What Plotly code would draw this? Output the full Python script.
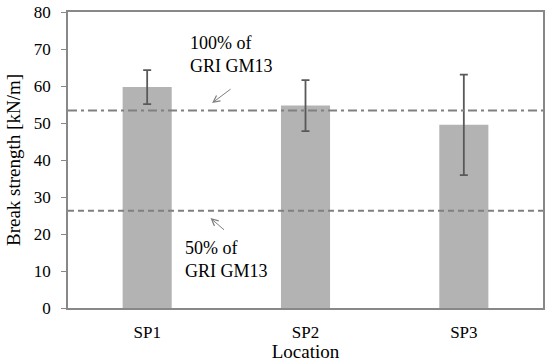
import plotly.graph_objects as go

categories = ["SP1", "SP2", "SP3"]
strength = [59.7, 54.7, 49.5]
err_plus = [4.6, 6.9, 13.6]
err_minus = [4.6, 6.9, 13.6]
ref_100 = 53.4
ref_50 = 26.3
y_ticks = [0, 10, 20, 30, 40, 50, 60, 70, 80]

FONT = "Liberation Serif, Times New Roman, serif"
fig = go.Figure()
fig.add_trace(go.Bar(
    x=categories, y=strength,
    marker=dict(color="#b3b3b3", line=dict(width=0)),
    error_y=dict(type="data", symmetric=False, array=err_plus, arrayminus=err_minus,
                 color="#595959", thickness=1.8, width=4),
    width=0.31,
))

fig.add_shape(type="line", xref="paper", x0=0, x1=1, y0=ref_100, y1=ref_100,
              line=dict(color="#808080", width=2, dash="9px,4px,3px,4px"))
fig.add_shape(type="line", xref="paper", x0=0, x1=1, y0=ref_50, y1=ref_50,
              line=dict(color="#808080", width=2, dash="6px,4px"))

fig.add_annotation(x=0.26, y=68.6, text="100% of<br>GRI GM13", showarrow=False,
                   xanchor="left", yanchor="middle", align="left",
                   font=dict(family=FONT, size=18, color="#000"))
fig.add_annotation(x=0.227, y=13.0, text="50% of<br>GRI GM13", showarrow=False,
                   xanchor="left", yanchor="middle", align="left",
                   font=dict(family=FONT, size=18, color="#000"))
fig.add_annotation(x=0.41, y=55.4, text="", showarrow=True, ax=20, ay=-15,
                   arrowhead=5, arrowsize=1.3, arrowwidth=1, arrowcolor="#808080")
fig.add_annotation(x=0.40, y=24.3, text="", showarrow=True, ax=15, ay=13,
                   arrowhead=5, arrowsize=1.3, arrowwidth=1, arrowcolor="#808080")

fig.update_layout(
    width=550, height=362,
    margin=dict(l=68, r=7, t=12, b=54, autoexpand=False),
    plot_bgcolor="white", paper_bgcolor="white",
    font=dict(family=FONT, size=17, color="#000"),
    showlegend=False,
    xaxis=dict(showline=True, linecolor="#888888", linewidth=1.5, mirror=True,
               ticks="", showgrid=False, ticklabelstandoff=8, automargin=False,
               title=dict(text="Location", standoff=0, font=dict(size=19))),
    yaxis=dict(range=[0, 80], tickvals=y_ticks, showline=True, linecolor="#888888",
               linewidth=1.5, mirror=True, ticks="outside", ticklen=5, tickcolor="#888888",
               showgrid=False, zeroline=False, ticklabelstandoff=7, automargin=False,
               title=dict(text="Break strength [kN/m]", standoff=8, font=dict(size=19))),
)

fig.write_html("out.html", config={"displayModeBar": False},
               post_script="document.body.style.margin='0';")
